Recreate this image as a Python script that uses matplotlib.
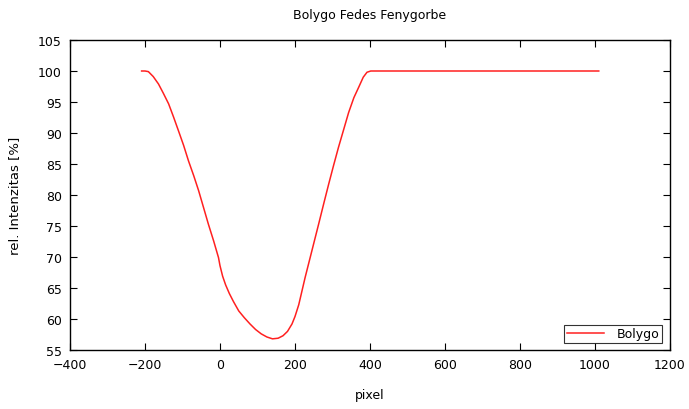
import matplotlib
matplotlib.use("Agg")
import matplotlib.pyplot as plt

# light curve samples (pixel position, relative intensity in %)
pixel = [-209, -200, -191, -178, -164, -151, -137, -124, -111, -97, -84, -70, -57, -44,
         -31, -17, -4, 0, 7, 15, 25, 36, 50, 65, 80, 95, 110, 125, 140, 155, 168, 180,
         192, 200, 210, 227, 245, 263, 277, 290, 303, 316, 330, 343, 357, 370, 382,
         392, 402, 500, 600, 700, 800, 900, 1010]
intensity = [100, 100, 99.9, 99.1, 97.9, 96.4, 94.7, 92.6, 90.4, 88.0, 85.5, 83.1, 80.7, 78.0,
             75.3, 72.6, 69.9, 68.6, 66.9, 65.5, 64.1, 62.8, 61.3, 60.2, 59.2, 58.3, 57.6, 57.1,
             56.8, 56.9, 57.3, 58.0, 59.2, 60.4, 62.3, 66.7, 71.0, 75.3, 78.7, 81.8, 84.8, 87.7,
             90.6, 93.3, 95.7, 97.4, 99.0, 99.8, 100, 100, 100, 100, 100, 100, 100]

xticks = [-400, -200, 0, 200, 400, 600, 800, 1000, 1200]
yticks = [55, 60, 65, 70, 75, 80, 85, 90, 95, 100, 105]

plt.rcParams["font.family"] = "DejaVu Sans"
plt.rcParams["font.size"] = 9

fig = plt.figure(figsize=(6.89, 4.10), dpi=100)
ax = fig.add_axes([70 / 689, 59 / 410, 600 / 689, 310 / 410])

ax.plot(pixel, intensity, color="#ff2020", lw=1.1, label="Bolygo")

ax.set_xlim(-400, 1200)
ax.set_ylim(55, 105)
ax.set_xticks(xticks)
ax.set_yticks(yticks)
ax.tick_params(direction="in", length=5, width=0.8, top=True, right=True,
               labelsize=9, pad=6)
for s in ax.spines.values():
    s.set_linewidth(1.0)
    s.set_color("black")

ax.set_xlabel("pixel", fontsize=9, labelpad=12)
ax.set_ylabel("rel. Intenzitas [%]", fontsize=9.5, labelpad=12)
ax.set_title("Bolygo Fedes Fenygorbe", fontsize=9, pad=15.5)

leg = ax.legend(loc="lower right", frameon=True, fancybox=False, fontsize=9,
                handlelength=3.0, borderpad=0.2, handletextpad=1.0,
                borderaxespad=0, bbox_to_anchor=(0.987, 0.023))
leg.get_frame().set_edgecolor("black")
leg.get_frame().set_linewidth(0.8)

fig.savefig("out.png", dpi=100)
